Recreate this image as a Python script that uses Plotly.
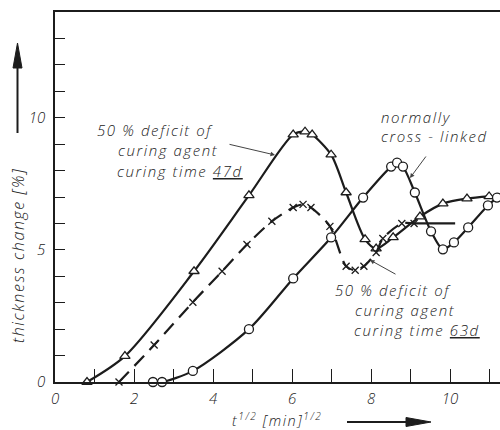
import plotly.graph_objects as go

# --- data: sqrt(time) [min^1/2] vs. thickness change [%] ---
tri_x = [0.81, 1.77, 3.52, 4.91, 6.03, 6.33, 6.51, 6.99, 7.37, 7.85, 8.13, 8.56, 9.24, 9.82, 10.43, 10.99]
tri_y = [0.0, 0.98, 4.19, 7.06, 9.36, 9.47, 9.36, 8.60, 7.17, 5.40, 5.05, 5.47, 6.26, 6.75, 6.94, 7.02]

circ_x = [2.48, 2.71, 3.49, 4.91, 6.03, 6.99, 7.80, 8.51, 8.66, 8.81, 9.11, 9.52, 9.82, 10.10, 10.46, 10.96, 11.19]
circ_y = [0.0, 0.0, 0.42, 2.00, 3.92, 5.47, 6.98, 8.15, 8.30, 8.15, 7.17, 5.70, 5.02, 5.28, 5.85, 6.68, 6.98]

cross_x = [1.62, 2.51, 3.49, 4.23, 4.86, 5.49, 6.03, 6.28, 6.48, 6.96, 7.37, 7.60, 7.82, 8.13, 8.30, 8.78, 9.09]
cross_y = [0.0, 1.40, 3.02, 4.19, 5.20, 6.08, 6.60, 6.72, 6.60, 5.89, 4.38, 4.23, 4.38, 4.90, 5.43, 6.00, 6.00]
plateau_x = [9.09, 10.13]
plateau_y = [6.00, 6.00]

x_ticks = list(range(0, 12))
x_labels = ["0", "", "2", "", "4", "", "6", "", "8", "", "10", ""]
y_ticks = list(range(0, 14))
y_labels = ["0", "", "", "", "", "5", "", "", "", "", "10", "", "", ""]

# plot area in pixels
L, R, T, B = 55, 500, 12, 382
W, H = 500, 430

def px(xp):
    return (xp - L) / (R - L)

def py(yp):
    return (B - yp) / (B - T)

FONT = "Open Sans"
INK = "#1c1c1c"
TXT = "#222222"

def sp(s):
    return f'<span style="letter-spacing:1.6px">{s}</span>'

fig = go.Figure()

fig.add_trace(go.Scatter(
    x=tri_x, y=tri_y, mode="lines+markers",
    line=dict(color=INK, width=2.2, shape="spline", smoothing=0.8),
    marker=dict(symbol="triangle-up", size=9, color="white", line=dict(color=INK, width=1.3)),
    cliponaxis=False, showlegend=False))

fig.add_trace(go.Scatter(
    x=circ_x, y=circ_y, mode="lines+markers",
    line=dict(color=INK, width=2.2, shape="spline", smoothing=0.8),
    marker=dict(symbol="circle", size=9, color="white", line=dict(color=INK, width=1.3)),
    cliponaxis=False, showlegend=False))

fig.add_trace(go.Scatter(
    x=cross_x, y=cross_y, mode="lines+markers",
    line=dict(color=INK, width=2.2, shape="spline", smoothing=0.8, dash="14px,8px"),
    marker=dict(symbol="x-thin", size=7, color=INK, line=dict(color=INK, width=1.3)),
    cliponaxis=False, showlegend=False))

fig.add_trace(go.Scatter(
    x=plateau_x, y=plateau_y, mode="lines",
    line=dict(color=INK, width=2.2),
    showlegend=False))

tf = dict(family=FONT, size=15, color=TXT, style="italic", weight=300)

# curve labels, one line each
labels = [
    (sp("50 % deficit of"), 95, 130),
    (sp("curing agent"), 116, 150),
    (sp("curing time <u>47d</u>"), 115, 171),
    (sp("normally"), 379, 117),
    (sp("cross - linked"), 379, 136),
    (sp("50 % deficit of"), 333, 290),
    (sp("curing agent"), 353, 310),
    (sp("curing time <u>63d</u>"), 352, 330),
]
for text, xl, yc in labels:
    fig.add_annotation(text=text, xref="paper", yref="paper", x=px(xl), y=py(yc),
                       xanchor="left", yanchor="middle", showarrow=False, font=tf)

# leader lines pointing at the curves
leaders = [((228, 144), (275, 155)), ((427, 155), (410, 178)), ((397, 275), (370, 260))]
for (x0, y0), (x1, y1) in leaders:
    fig.add_annotation(text="", xref="paper", yref="paper", x=px(x1), y=py(y1),
                       axref="pixel", ayref="pixel", ax=x0 - x1, ay=y0 - y1,
                       showarrow=True, arrowhead=2, arrowsize=0.9, arrowwidth=1,
                       arrowcolor="#444")

# axis titles
fig.add_annotation(text=sp("thickness change [%]"), xref="paper", yref="paper",
                   x=px(18), y=py(256), xanchor="center", yanchor="middle",
                   textangle=-90, showarrow=False,
                   font=dict(family=FONT, size=16, color=TXT, style="italic", weight=300))
fig.add_annotation(text=sp("t<sup>1/2</sup> [min]<sup>1/2</sup>"), xref="paper", yref="paper",
                   x=px(277), y=py(419), xanchor="center", yanchor="middle", showarrow=False,
                   font=dict(family=FONT, size=14.5, color=TXT, style="italic", weight=300))

# direction arrows beside the axis titles
fig.add_shape(type="line", xref="paper", yref="paper", x0=px(17.5), y0=py(133), x1=px(17.5), y1=py(62),
              line=dict(color=INK, width=2))
fig.add_shape(type="path", xref="paper", yref="paper",
              path=f"M {px(17.5)} {py(43)} L {px(13)} {py(68)} L {px(22)} {py(68)} Z",
              fillcolor=INK, line=dict(color=INK, width=1))
fig.add_shape(type="line", xref="paper", yref="paper", x0=px(347), y0=py(422), x1=px(410), y1=py(422),
              line=dict(color=INK, width=2))
fig.add_shape(type="path", xref="paper", yref="paper",
              path=f"M {px(431)} {py(422)} L {px(406)} {py(417.5)} L {px(406)} {py(426.5)} Z",
              fillcolor=INK, line=dict(color=INK, width=1))

tickfont = dict(family=FONT, size=15, color=TXT, style="italic", weight=300)

fig.update_layout(
    width=W, height=H,
    margin=dict(l=L, r=W - R, t=T, b=H - B),
    paper_bgcolor="white", plot_bgcolor="white",
    xaxis=dict(range=[0, (R - L) / 39.5], showline=True, linecolor=INK, linewidth=1.5, mirror=True,
               ticks="inside", ticklen=13, tickwidth=1.2, tickcolor=INK,
               tickvals=x_ticks, ticktext=x_labels, tickfont=tickfont,
               showgrid=False, zeroline=False, ticklabelstandoff=2),
    yaxis=dict(range=[0, 14], showline=True, linecolor=INK, linewidth=1.5,
               ticks="inside", ticklen=10, tickwidth=1.2, tickcolor=INK,
               tickvals=y_ticks, ticktext=y_labels, tickfont=tickfont,
               showgrid=False, zeroline=False, ticklabelstandoff=5),
)

fig.write_html("out.html")
